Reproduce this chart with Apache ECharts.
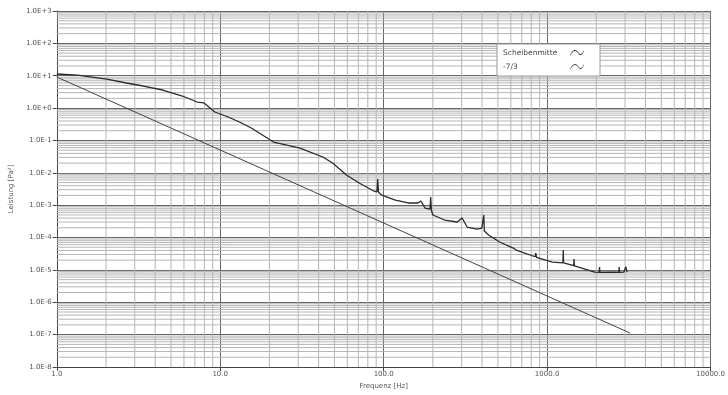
<!DOCTYPE html>
<html>
<head>
<meta charset="utf-8">
<script src="https://cdn.jsdelivr.net/npm/echarts@6/dist/echarts.min.js"></script>
<style>html,body{margin:0;padding:0;background:#fff}#c{width:728px;height:395px}</style>
</head>
<body>
<div id="c"></div>
<script>
// Frequency [Hz] and power values of the measured spectrum (Scheibenmitte)
const specFreq = [1.0, 1.34, 2.02, 2.67, 3.38, 4.45, 5.87, 7.22, 7.96, 9.27, 11.2, 13.5, 15.5, 21.2, 30.8, 42.4, 48.7, 59.2, 70.8, 87.1, 91.0, 92.0, 93.0, 97.3, 118, 141, 162, 169, 179, 192, 194, 196, 200, 236, 282, 302, 324, 372, 399, 407, 410, 413, 439, 512, 621, 647, 845, 853, 861, 1079, 1250, 1256, 1262, 1291, 1455, 1462, 1469, 1483, 1955, 2085, 2094, 2103, 2576, 2750, 2761, 2772, 2950, 3030, 3085];
const specVal  = [11.3, 10.5, 7.9, 5.96, 4.81, 3.62, 2.36, 1.54, 1.44, 0.757, 0.53, 0.346, 0.242, 0.0895, 0.0583, 0.0308, 0.0201, 0.00855, 0.00484, 0.00274, 0.0026, 0.00643, 0.0025, 0.00206, 0.00144, 0.00117, 0.00117, 0.00135, 0.000817, 0.00075, 0.00179, 0.0007, 0.000497, 0.000348, 0.000302, 0.000401, 0.000211, 0.000183, 0.000197, 0.00019, 0.000497, 0.00016, 0.00012, 7.27e-5, 4.74e-5, 4.11e-5, 2.55e-5, 3.3e-5, 2.45e-5, 1.75e-5, 1.66e-5, 4.11e-5, 1.64e-5, 1.63e-5, 1.36e-5, 2.17e-5, 1.33e-5, 1.32e-5, 8.6e-6, 8.4e-6, 1.23e-5, 8.4e-6, 8.6e-6, 8.4e-6, 1.23e-5, 8.4e-6, 8.5e-6, 1.25e-5, 8.6e-6];
// -7/3 reference slope line endpoints
const slopeFreq = [1.0, 3220];
const slopeVal  = [9.1, 1.12e-7];
// Axis ranges / tick labels
const xDecades = [1, 10, 100, 1000, 10000];
const yDecades = [1e-8, 1e-7, 1e-6, 1e-5, 1e-4, 1e-3, 1e-2, 1e-1, 1e0, 1e1, 1e2, 1e3];
const minorMult = [2, 3, 4, 5, 6, 7, 8, 9];
const seriesNames = ['Scheibenmitte', '-7/3'];

const minorX = [];
xDecades.slice(0, -1).forEach(d => minorMult.forEach(m => minorX.push(d * m)));
const minorY = [];
yDecades.slice(0, -1).forEach(d => minorMult.forEach(m => minorY.push(d * m)));

// minor grid lines as broken line series
const xMin = xDecades[0], xMax = xDecades[xDecades.length - 1];
const yMin = yDecades[0], yMax = yDecades[yDecades.length - 1];
const gridYData = [];
minorY.forEach(v => { gridYData.push([xMin, v], [xMax, v], [xMax, '-']); });
const gridXData = [];
minorX.forEach(v => { gridXData.push([v, yMin], [v, yMax], [v, '-']); });

function yFmt(v) {
  const e = Math.round(Math.log10(v));
  return '1.0E' + (e >= 0 ? '+' : '-') + Math.abs(e);
}

const chart = echarts.init(document.getElementById('c'));
chart.setOption({
  backgroundColor: '#fff',
  animation: false,
  textStyle: { fontFamily: 'DejaVu Sans' },
  grid: { left: 52, right: 10, top: 11, bottom: 28 },
  legend: {
    data: seriesNames,
    orient: 'vertical',
    left: 497, top: 44,
    align: 'right',
    backgroundColor: '#fff',
    borderColor: '#999', borderWidth: 1,
    padding: [5, 16, 5, 6],
    itemGap: 6, itemWidth: 14, itemHeight: 7,
    formatter: n => '{t|' + n + '}',
    textStyle: { fontSize: 7.5, color: '#444', rich: { t: { width: 62, align: 'left', fontSize: 7.5, color: '#444' } } },
    icon: 'path://M0,6 C3,0 6,0 8,3 C10,6 12,6 14,1 L14,2 C12,7 10,7 8,4 C6,1 3,1 0,7 Z'
  },
  xAxis: {
    type: 'log', logBase: 10, min: 1, max: 10000, interval: 1,
    name: 'Frequenz [Hz]', nameLocation: 'middle', nameGap: 16,
    nameTextStyle: { fontSize: 7, color: '#555' },
    axisLine: { lineStyle: { color: '#444' } },
    axisTick: { length: 4, lineStyle: { color: '#444' } },
    axisLabel: { fontSize: 7, color: '#555', margin: 4, formatter: v => v.toFixed(1) },
    splitLine: { show: true, lineStyle: { color: '#666', width: 1 } }
  },
  yAxis: {
    type: 'log', logBase: 10, min: 1e-8, max: 1e3, interval: 1,
    name: 'Leistung [Pa²]', nameLocation: 'middle', nameGap: 40,
    nameTextStyle: { fontSize: 7, color: '#555' },
    axisLine: { lineStyle: { color: '#444' } },
    axisTick: { length: 4, lineStyle: { color: '#444' } },
    axisLabel: { fontSize: 7, color: '#555', margin: 5, formatter: yFmt },
    splitLine: { show: true, lineStyle: { color: '#666', width: 1 } }
  },
  series: [
    {
      name: 'gridX', type: 'line', silent: true, showSymbol: false, symbol: 'none',
      data: gridXData, connectNulls: false,
      lineStyle: { color: '#b5b5b5', width: 1 }, z: 1
    },
    {
      name: 'gridY', type: 'line', silent: true, showSymbol: false, symbol: 'none',
      data: gridYData, connectNulls: false,
      lineStyle: { color: '#b5b5b5', width: 1 }, z: 1
    },
    {
      name: seriesNames[0], type: 'line', showSymbol: false, symbol: 'none',
      data: specFreq.map((f, i) => [f, specVal[i]]),
      lineStyle: { color: '#2a2a2a', width: 1.3 }, itemStyle: { color: '#2a2a2a' },
      z: 5
    },
    {
      name: seriesNames[1], type: 'line', showSymbol: false, symbol: 'none',
      data: slopeFreq.map((f, i) => [f, slopeVal[i]]),
      lineStyle: { color: '#444', width: 1 }, itemStyle: { color: '#444' },
      z: 4
    }
  ]
});
</script>
</body>
</html>
